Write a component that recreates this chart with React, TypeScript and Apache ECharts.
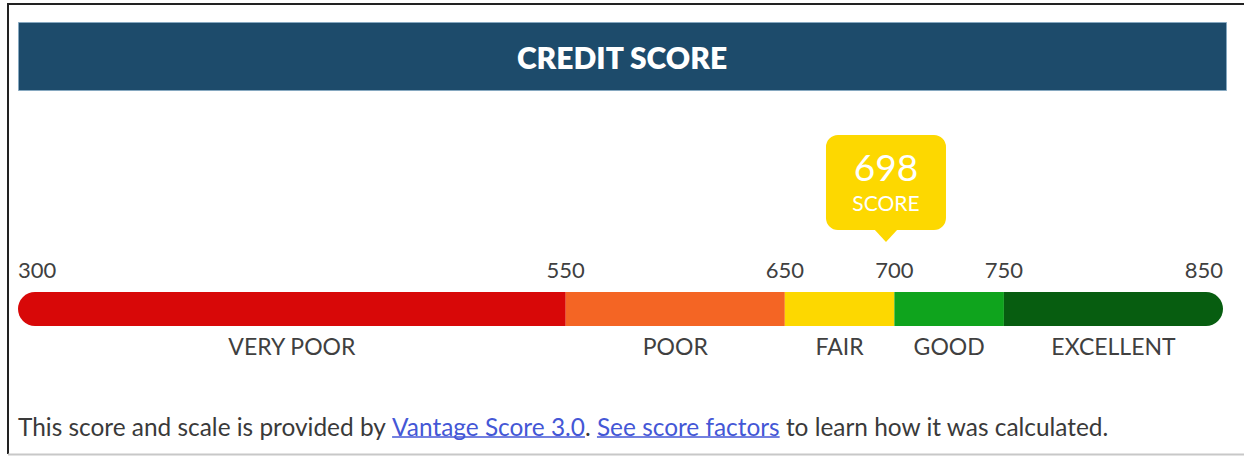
import React, { useEffect, useRef } from "react";
import * as echarts from "echarts";

const title = "CREDIT SCORE";
const rangeNames = ["VERY POOR", "POOR", "FAIR", "GOOD", "EXCELLENT"];
const rangeStarts = [300, 550, 650, 700, 750];
const rangeEnds = [550, 650, 700, 750, 850];
const rangeColors = ["#d80808", "#f46524", "#fdd800", "#0fa41d", "#075d10"];
const tickValues = [300, 550, 650, 700, 750, 850];
const scoreValue = 698;
const scoreCaption = "SCORE";
const footerTexts = [
  "This score and scale is provided by ",
  "Vantage Score 3.0",
  ". ",
  "See score factors",
  " to learn how it was calculated.",
];
const footerIsLink = [false, true, false, true, false];

const FONT = "Lato, 'Open Sans', sans-serif";
const W = 1244;
const H = 456;

export default function App() {
  const ref = useRef<HTMLDivElement>(null);
  useEffect(() => {
    if (!ref.current) return;
    const chart = echarts.init(ref.current, null, { renderer: "svg" });
    const series: any[] = [
      {
        type: "bar",
        stack: "s",
        data: [rangeStarts[0]],
        itemStyle: { color: "transparent" },
        barWidth: 34,
        silent: true,
      },
    ];
    rangeNames.forEach((name, i) => {
      const last = rangeNames.length - 1;
      series.push({
        type: "bar",
        stack: "s",
        name,
        data: [rangeEnds[i] - rangeStarts[i]],
        barWidth: 34,
        itemStyle: {
          color: rangeColors[i],
          borderRadius:
            i === 0 ? [17, 0, 0, 17] : i === last ? [0, 17, 17, 0] : 0,
        },
        label: {
          show: true,
          position: "bottom",
          distance: 8,
          formatter: name,
          color: "#404040",
          fontFamily: FONT,
          fontSize: 23,
        },
      });
    });
    chart.setOption({
      animation: false,
      grid: { left: 18, right: W - 1223, top: 292, height: 34 },
      xAxis: {
        type: "value",
        min: 300,
        max: 850,
        position: "top",
        axisLine: { show: false },
        axisTick: { show: false },
        splitLine: { show: false },
        axisLabel: {
          customValues: tickValues,
          margin: 12,
          color: "#404040",
          fontFamily: FONT,
          fontSize: 22,
          alignMinLabel: "left",
          alignMaxLabel: "right",
        },
      },
      yAxis: { type: "category", data: ["score"], show: false },
      series,
    });

    const px = chart.convertToPixel({ xAxisIndex: 0 }, scoreValue) as number;
    const bw = 120,
      bh = 95,
      bTop = 135,
      tipY = 242;
    const cx = px - 4;
    const bx = cx - bw / 2;
    const graphics: any[] = [
      // frame
      { type: "line", shape: { x1: 7, y1: 4, x2: W, y2: 4 }, style: { stroke: "#222", lineWidth: 2 } },
      { type: "line", shape: { x1: 8, y1: 4, x2: 8, y2: 454 }, style: { stroke: "#222", lineWidth: 2 } },
      { type: "line", shape: { x1: 8, y1: 454.5, x2: W, y2: 454.5 }, style: { stroke: "#c8c8c8", lineWidth: 2 } },
      // header
      {
        type: "rect",
        shape: { x: 18.5, y: 22.5, width: 1208, height: 68 },
        style: { fill: "#1d4b6b", stroke: "#86a8c0", lineWidth: 1 },
      },
      {
        type: "text",
        x: 622,
        y: 57,
        style: {
          text: title,
          fill: "#ffffff",
          font: `800 30px ${FONT}`,
          align: "center",
          verticalAlign: "middle",
        },
      },
      // score bubble
      {
        type: "rect",
        shape: { x: bx, y: bTop, width: bw, height: bh, r: 12 },
        style: { fill: "#fdd800" },
      },
      {
        type: "polygon",
        shape: {
          points: [
            [cx - 12, bTop + bh - 1],
            [cx + 12, bTop + bh - 1],
            [cx, tipY],
          ],
        },
        style: { fill: "#fdd800" },
      },
      {
        type: "text",
        x: cx,
        y: 166,
        style: {
          text: String(scoreValue),
          fill: "#ffffff",
          font: `400 37px ${FONT}`,
          align: "center",
          verticalAlign: "middle",
        },
      },
      {
        type: "text",
        x: cx,
        y: 202,
        style: {
          text: scoreCaption,
          fill: "#ffffff",
          font: `400 21px ${FONT}`,
          align: "center",
          verticalAlign: "middle",
        },
      },
    ];

    // footer sentence, laid out piece by piece
    const ctx = document.createElement("canvas").getContext("2d")!;
    ctx.font = `20px ${FONT}`;
    const total = ctx.measureText(footerTexts.join("")).width;
    const fs = (20 * 1092) / total;
    ctx.font = `${fs}px ${FONT}`;
    let fx = 18;
    footerTexts.forEach((t, i) => {
      const w = ctx.measureText(t).width;
      graphics.push({
        type: "text",
        x: fx,
        y: 426,
        style: {
          text: t,
          fill: footerIsLink[i] ? "#4457d6" : "#3a3a3a",
          font: `${fs}px ${FONT}`,
          align: "left",
          verticalAlign: "middle",
        },
      });
      if (footerIsLink[i]) {
        graphics.push({
          type: "line",
          shape: { x1: fx, y1: 437, x2: fx + w, y2: 437 },
          style: { stroke: "#4457d6", lineWidth: 1.5 },
        });
      }
      fx += w;
    });

    chart.setOption({ graphic: graphics });
    return () => chart.dispose();
  }, []);
  return (
    <div
      ref={ref}
      style={{ position: "absolute", left: 0, top: 0, width: W, height: H, background: "#fff" }}
    />
  );
}
